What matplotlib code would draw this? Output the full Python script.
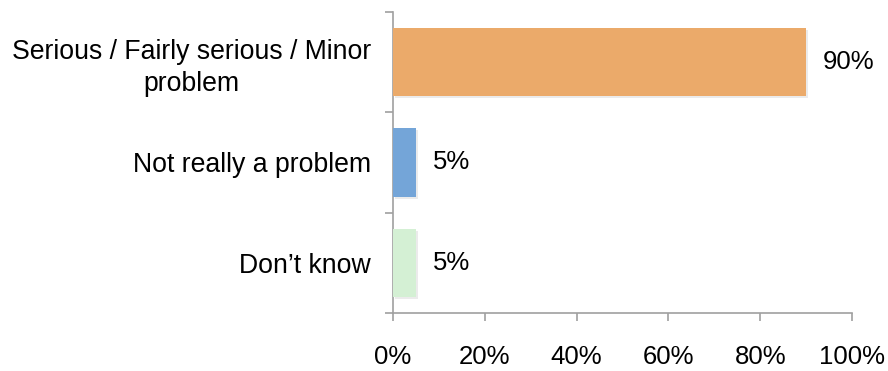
import matplotlib
matplotlib.use("Agg")
import matplotlib.pyplot as plt
import matplotlib.patheffects as pe

categories = ["Serious / Fairly serious / Minor\nproblem", "Not really a problem", "Don\u2019t know"]
values = [90, 5, 5]
colors = ["#EBAA6A", "#74A5D8", "#D4F0D4"]
xticks = [0, 20, 40, 60, 80, 100]

plt.rcParams["font.family"] = ["Liberation Sans", "DejaVu Sans"]
FS = 18.5

fig = plt.figure(figsize=(8.88, 3.71), dpi=100)
ax = fig.add_axes([0.4426, 0.1563, 0.9595 - 0.4426, 0.9677 - 0.1563])

pos = [i + 0.5 for i in range(len(categories))]
bars = ax.barh(pos, values, height=0.68, color=colors, zorder=3)
for bar in bars:
    bar.set_path_effects([pe.SimplePatchShadow(offset=(1.5, -1.5), shadow_rgbFace="#000000", alpha=0.08),
                          pe.Normal()])

for p, v in zip(pos, values):
    ax.text(v + 3.6, p, f"{v}%", va="center", ha="left", fontsize=FS)

ax.set_xlim(0, 100)
ax.set_ylim(len(categories), 0)
ax.set_xticks(xticks)
ax.set_xticklabels([f"{t}%" for t in xticks], fontsize=FS)
ax.set_yticks(range(len(categories) + 1))
ax.set_yticklabels([])
ax.set_yticks(pos, minor=True)
ax.set_yticklabels(categories, minor=True, fontsize=19.2, multialignment="center",
                   linespacing=1.3)

ax.tick_params(axis="y", which="major", length=6, color="#A0A0A0", width=1.2)
ax.tick_params(axis="y", which="minor", length=0, pad=16)
ax.tick_params(axis="x", length=6, color="#A0A0A0", width=1.2, pad=17)

for s in ["top", "right"]:
    ax.spines[s].set_visible(False)
for s in ["left", "bottom"]:
    ax.spines[s].set_color("#A0A0A0")
    ax.spines[s].set_linewidth(1.2)

fig.savefig("out.png", dpi=100)
